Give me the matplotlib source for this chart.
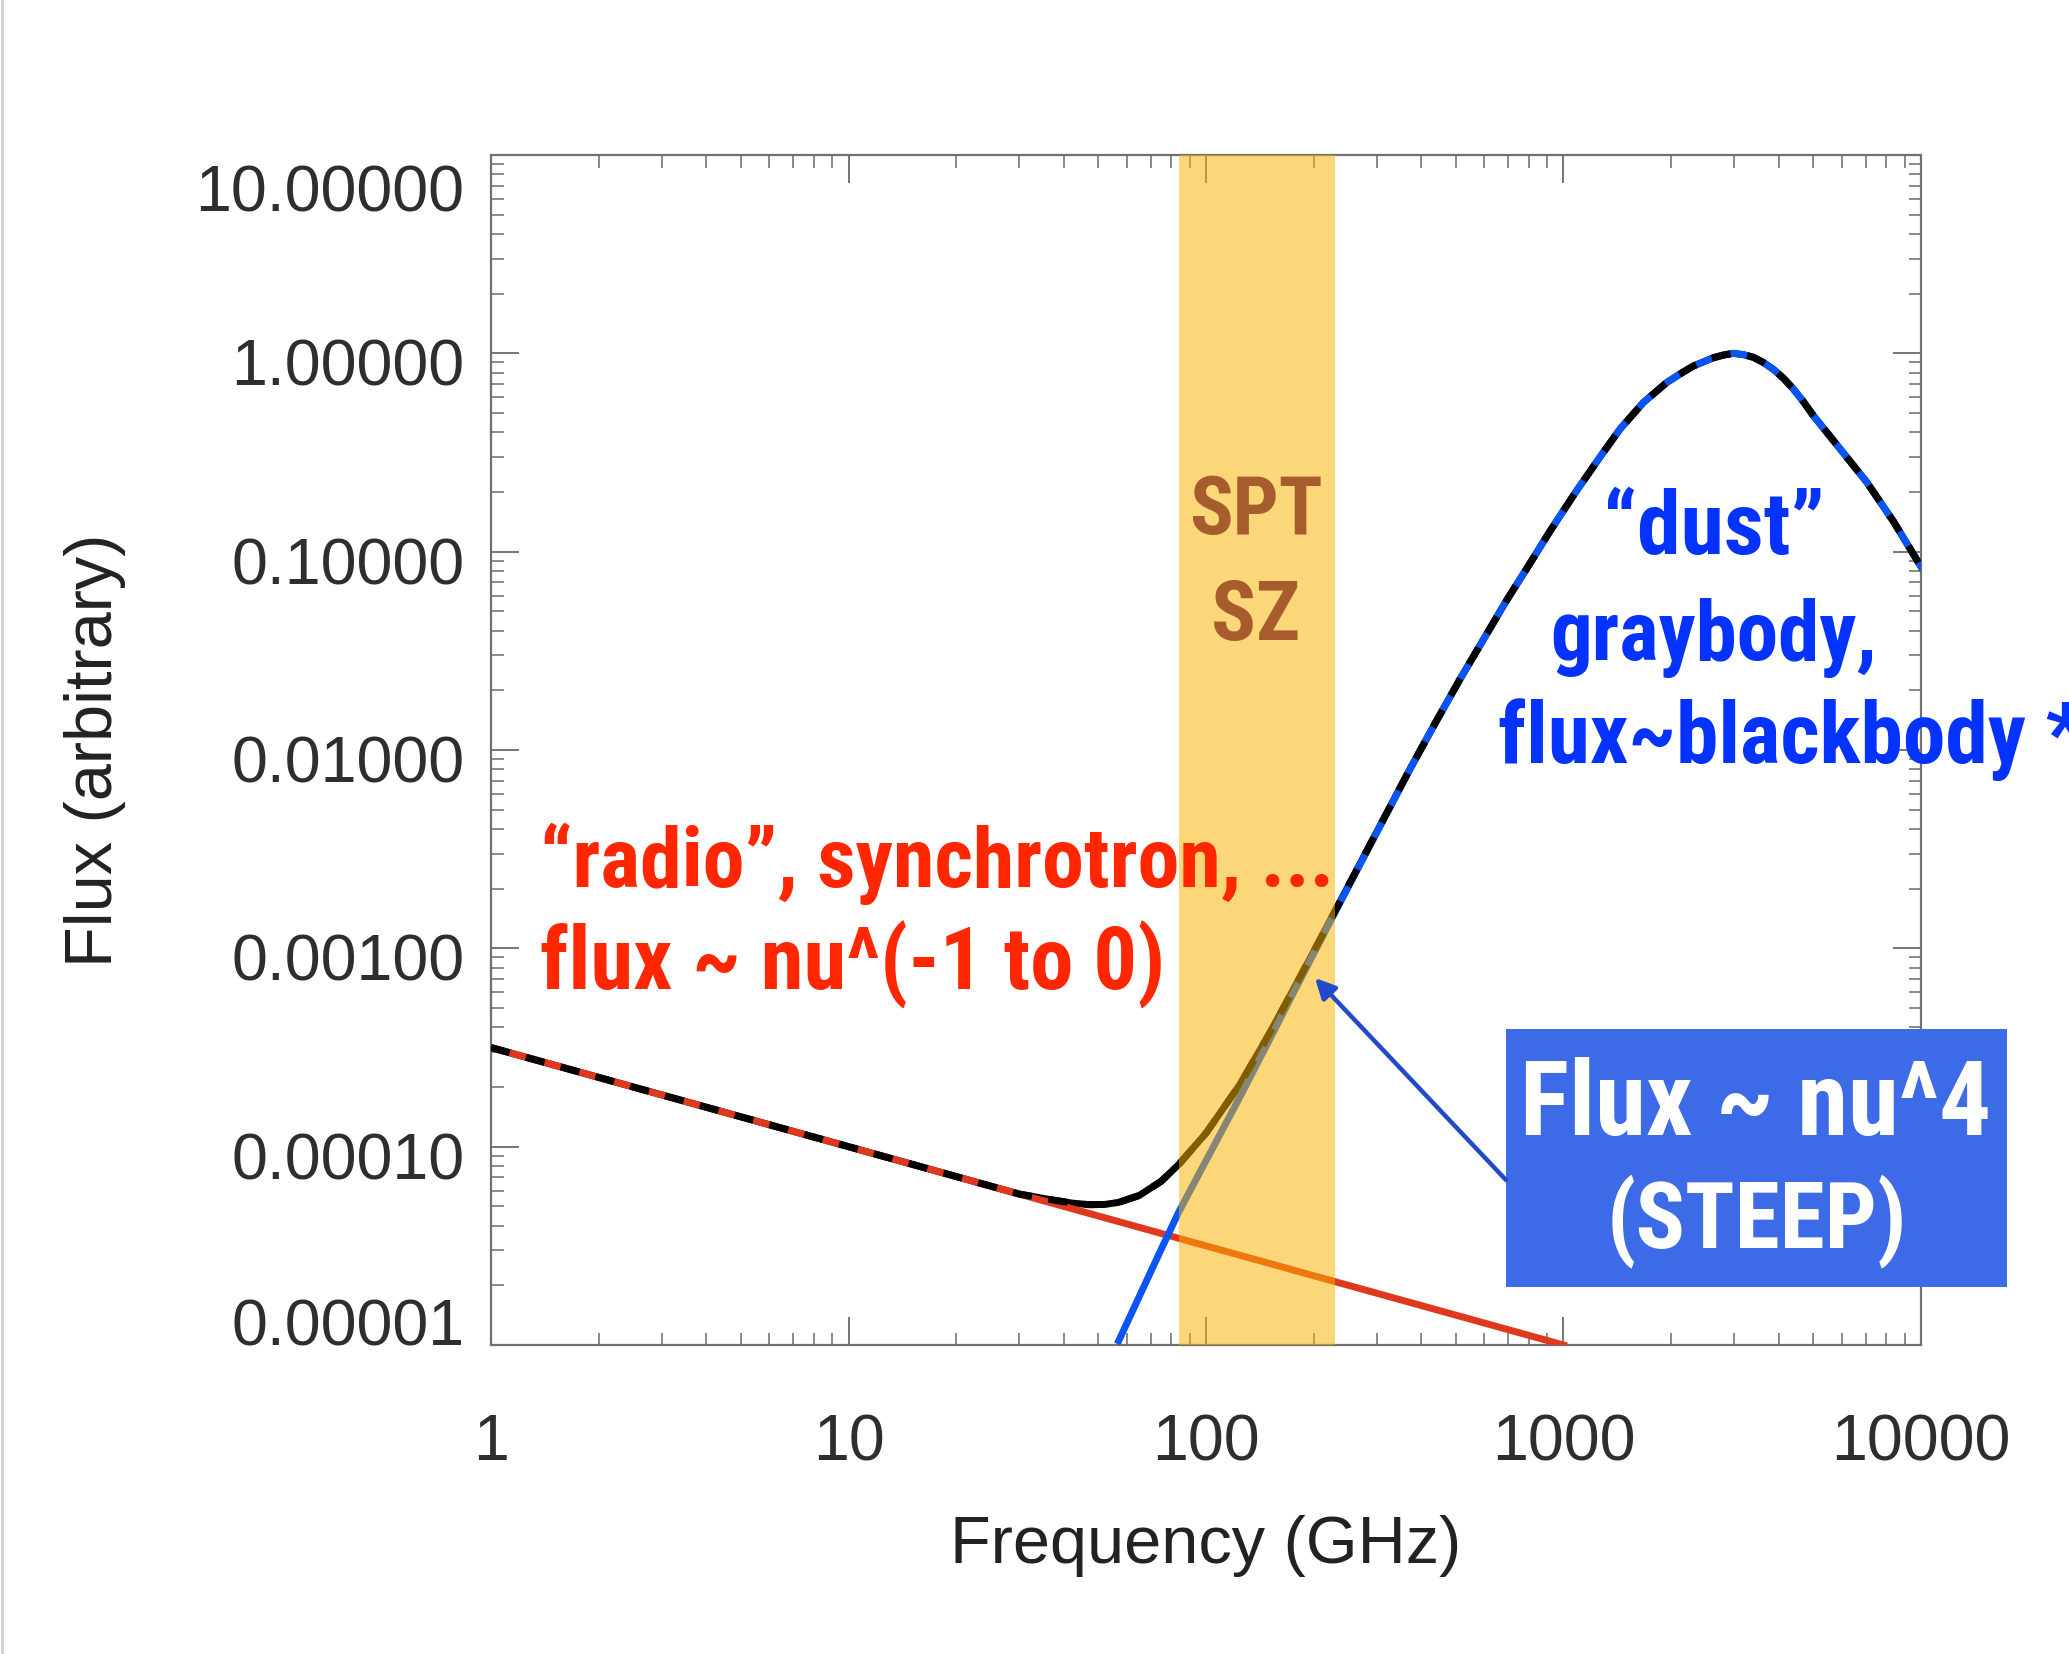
import matplotlib
matplotlib.use("Agg")
import matplotlib.pyplot as plt
from matplotlib import font_manager as fm
from matplotlib.patches import Rectangle, FancyArrowPatch
from matplotlib.lines import Line2D
from matplotlib.transforms import ScaledTranslation
from matplotlib.ticker import FixedLocator, FixedFormatter, LogLocator, NullFormatter

# ---------------- data ----------------
freq_radio = [1, 1000]
flux_radio = [3.16e-4, 1.0e-5]

freq_dust = [57, 65, 75, 84, 100, 124, 150, 175, 200, 230, 294, 372, 440, 513,
             600, 693, 800, 917, 1080, 1265, 1439, 1672, 1945, 2150, 2308,
             2625, 2800, 2986, 3186, 3397, 3620, 3865, 4120, 4398, 4690, 5004,
             5937, 7052, 8374, 10000]
flux_dust = [1.05e-5, 1.75e-5, 3.05e-5, 4.7e-5, 8.5e-5, 1.76e-4, 3.42e-4,
             5.9e-4, 9.4e-4, 1.53e-3, 3.57e-3, 8.0e-3, 1.39e-2, 2.27e-2,
             3.66e-2, 5.68e-2, 8.55e-2, 0.127, 0.199, 0.30, 0.415, 0.565,
             0.713, 0.80, 0.863, 0.95, 0.98, 1.0, 0.985, 0.955, 0.90, 0.83,
             0.75, 0.66, 0.57, 0.484, 0.33, 0.224, 0.142, 0.084]

freq_total = [1, 10, 20, 30, 36, 42, 47, 52, 57, 65, 75, 84, 100, 124, 150,
              175, 200, 230, 294, 372, 440, 513, 600, 693, 800, 917, 1080,
              1265, 1439, 1672, 1945, 2150, 2308, 2625, 2800, 2986, 3186,
              3397, 3620, 3865, 4120, 4398, 4690, 5004, 5937, 7052, 8374,
              10000]
flux_total = [3.16e-4, 1.0e-4, 7.07e-5, 5.77e-5, 5.44e-5, 5.2e-5, 5.1e-5,
              5.11e-5, 5.24e-5, 5.67e-5, 6.7e-5, 8.15e-5, 1.17e-4, 2.04e-4,
              3.68e-4, 6.14e-4, 9.62e-4, 1.55e-3, 3.59e-3, 8.02e-3, 1.39e-2,
              2.27e-2, 3.66e-2, 5.68e-2, 8.55e-2, 0.127, 0.199, 0.30, 0.415,
              0.565, 0.713, 0.80, 0.863, 0.95, 0.98, 1.0, 0.985, 0.955, 0.90,
              0.83, 0.75, 0.66, 0.57, 0.484, 0.33, 0.224, 0.142, 0.084]

spt_band = [84, 230]

xtick_vals = [1, 10, 100, 1000, 10000]
xtick_labels = ["1", "10", "100", "1000", "10000"]
ytick_vals = [1e-5, 1e-4, 1e-3, 1e-2, 1e-1, 1, 10]
ytick_labels = ["0.00001", "0.00010", "0.00100", "0.01000", "0.10000",
                "1.00000", "10.00000"]

# ---------------- figure ----------------
W, H, DPI = 2069, 1654, 100
fig = plt.figure(figsize=(W / DPI, H / DPI), dpi=DPI)
fig.patch.set_facecolor("white")

names = {f.name for f in fm.fontManager.ttflist}


def pick(cands):
    for c in cands:
        if c in names:
            return c
    return "DejaVu Sans"


REG = pick(["Liberation Sans", "Arimo", "Roboto", "DejaVu Sans"])
COND = pick(["Roboto Condensed", "Liberation Sans Narrow", "Open Sans Condensed",
             "DejaVu Sans Condensed", "Roboto"])


def fx(px):
    return px / W


def fy(py):
    return 1 - py / H


ax = fig.add_axes([fx(491), fy(1345), fx(1921) - fx(491), fy(155) - fy(1345)])
ax.set_xscale("log")
ax.set_yscale("log")
ax.set_xlim(1, 10000)
ax.set_ylim(1e-5, 10)

LW = 5.0
ax.plot(freq_total, flux_total, color="black", lw=LW, zorder=2)
ax.plot(freq_radio, flux_radio, color="#E0381E", lw=LW, zorder=3)
ax.plot(freq_dust, flux_dust, color="#0A55F5", lw=LW, zorder=3)
ax.plot(freq_total, flux_total, color="black", lw=LW, ls=(0, (2.8, 2.4)),
        zorder=4)
ax.axvspan(spt_band[0], spt_band[1], color="#FAB400", alpha=0.52, lw=0, zorder=5)

ax.xaxis.set_major_locator(FixedLocator(xtick_vals))
ax.xaxis.set_major_formatter(FixedFormatter(xtick_labels))
ax.xaxis.set_minor_locator(LogLocator(base=10, subs=range(2, 10), numticks=50))
ax.xaxis.set_minor_formatter(NullFormatter())
ax.yaxis.set_major_locator(FixedLocator(ytick_vals))
ax.yaxis.set_major_formatter(FixedFormatter(ytick_labels))
ax.yaxis.set_minor_locator(LogLocator(base=10, subs=range(2, 10), numticks=50))
ax.yaxis.set_minor_formatter(NullFormatter())

ax.tick_params(which="both", direction="in", top=True, right=True,
               color="#6a6a6a", labelcolor="#2e2e2e")
ax.tick_params(which="major", length=20, width=1.3)
ax.tick_params(which="minor", length=9, width=1.1)
ax.tick_params(axis="y", which="major", pad=19)
ax.tick_params(axis="x", which="major", pad=49)
for lab in ax.get_xticklabels() + ax.get_yticklabels():
    lab.set_fontfamily(REG)
    lab.set_fontsize(46.5)
for sp in ax.spines.values():
    sp.set_color("#707070")
    sp.set_linewidth(1.6)
ax.set_zorder(1)

ylabs = ax.get_yticklabels()
ylabs[0].set_va("baseline")
ylabs[-1].set_va("top")
for lab in ylabs[1:]:
    lab.set_transform(lab.get_transform() +
                      ScaledTranslation(0, -9 / DPI, fig.dpi_scale_trans))

ax.set_xlabel("Frequency (GHz)", fontfamily=REG, fontsize=48, color="#222222",
              va="center")
ax.xaxis.set_label_coords(0.5, -(1546 - 1345) / 1190)
ax.set_ylabel("Flux (arbitrary)", fontfamily=REG, fontsize=48, color="#222222",
              va="center")
ax.yaxis.set_label_coords(-(491 - 95) / 1430, 0.5)

# left border line of the slide
fig.add_artist(Line2D([fx(2), fx(2)], [0, 1], transform=fig.transFigure,
                      color="#d2d2d2", lw=2))

# blue box with arrow
fig.add_artist(Rectangle((fx(1506), fy(1287)), fx(2007) - fx(1506),
                         fy(1029) - fy(1287), transform=fig.transFigure,
                         facecolor="#3D6BE8", edgecolor="none", zorder=5))
fig.add_artist(FancyArrowPatch((fx(1506), fy(1180)), (fx(1315), fy(978)),
                               transform=fig.transFigure, arrowstyle="-|>",
                               mutation_scale=30, lw=3.2, color="#2149C9",
                               shrinkA=0, shrinkB=0, zorder=6))

CF = [COND, "DejaVu Sans"]
specs = [
    ("\u201cradio\u201d, synchrotron, ...", 540, 887, "left", 794, "#FF2600"),
    ("flux ~ nu^(-1 to 0)", 540, 990, "left", 625, "#FF2600"),
    ("SPT", 1256, 534, "center", 134, "#A65C2C"),
    ("SZ", 1256, 640, "center", 89, "#A65C2C"),
    ("\u201cdust\u201d", 1714, 554, "center", 222, "#0433FF"),
    ("graybody,", 1714, 660, "center", 327, "#0433FF"),
    ("flux~blackbody *", 1498, 763, "left", 587, "#0433FF"),
    ("Flux ~ nu^4", 1756, 1135, "center", 472, "white"),
    ("(STEEP)", 1757, 1247, "center", 301, "white"),
]
texts = []
for s, x, y, ha, wt, c in specs:
    t = fig.text(fx(x), fy(y), s, ha=ha, va="baseline", color=c,
                 fontfamily=CF, fontweight="bold", fontsize=60, zorder=7)
    texts.append((t, wt))

fig.canvas.draw()
r = fig.canvas.get_renderer()
for t, wt in texts:
    w = t.get_window_extent(r).width
    t.set_fontsize(t.get_fontsize() * wt / w)

fig.savefig("out.png", dpi=DPI)
